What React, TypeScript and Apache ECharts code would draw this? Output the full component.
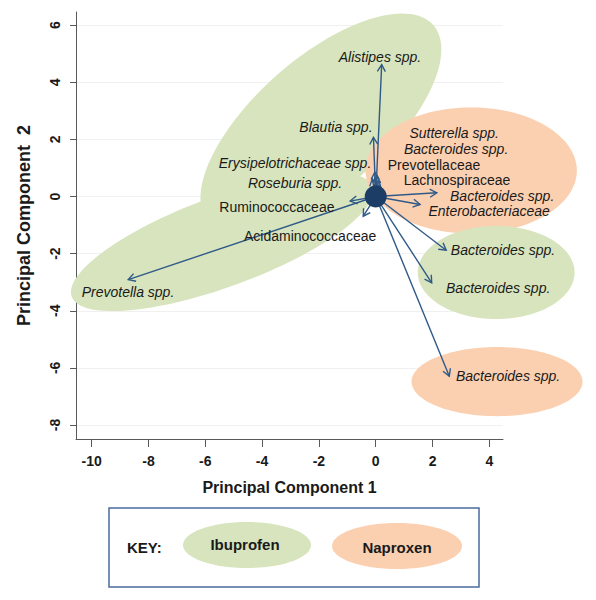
import React, { useEffect, useRef } from "react";
import * as echarts from "echarts";

const FONT = "'Liberation Sans', Arial, Helvetica, sans-serif";

// Axis ranges and ticks
const xMin = -10.55;
const xMax = 4.48;
const yMin = -8.49;
const yMax = 6.46;
const xTicks = [-10, -8, -6, -4, -2, 0, 2, 4];
const yTicks = [-8, -6, -4, -2, 0, 2, 4, 6];

// Loading vectors (arrows from the origin)
const loadingNames = [
  "Alistipes spp.", "Blautia spp.", "Erysipelotrichaceae spp.", "Roseburia spp.",
  "Sutterella spp.", "Bacteroides spp. (a)", "Prevotellaceae", "Lachnospiraceae",
  "Ruminococcaceae", "Acidaminococcaceae", "Prevotella spp.", "Bacteroides spp. (b)",
  "Enterobacteriaceae", "Bacteroides spp. (c)", "Bacteroides spp. (d)", "Bacteroides spp. (e)",
];
const loadingPC1 = [0.21, -0.08, -0.03, -0.12, 0.05, 0.1, 0.02, 0.15, -0.9, -0.44, -8.71, 2.15, 1.56, 2.48, 1.97, 2.59];
const loadingPC2 = [4.62, 2.07, 0.85, 0.62, 0.72, 0.55, 0.5, 0.4, -0.16, -0.69, -2.91, 0.13, -0.28, -1.88, -3.02, -6.29];

// Text labels
const labelTexts = [
  "Alistipes spp.", "Blautia spp.", "Erysipelotrichaceae spp.", "Roseburia spp.",
  "Ruminococcaceae", "Acidaminococcaceae", "Prevotella spp.", "Sutterella spp.",
  "Bacteroides spp.", "Prevotellaceae", "Lachnospiraceae", "Bacteroides spp.",
  "Enterobacteriaceae", "Bacteroides spp.", "Bacteroides spp.", "Bacteroides spp.",
];
const labelX = [0.15, -1.4, -2.84, -2.84, -3.48, -2.31, -8.72, 2.76, 2.83, 2.05, 2.86, 4.45, 3.99, 4.48, 4.31, 4.66];
const labelY = [4.87, 2.45, 1.16, 0.46, -0.35, -1.4, -3.33, 2.24, 1.68, 1.12, 0.58, 0.035, -0.49, -1.89, -3.19, -6.3];
const labelItalic = [true, true, true, true, false, false, true, true, true, false, false, true, true, true, true, true];

// Group ellipses (data units)
const ellipseGroup = ["Ibuprofen", "Ibuprofen", "Naproxen", "Ibuprofen", "Naproxen"];
const ellipseCX = [-1.93, -5.41, 3.36, 4.24, 4.27];
const ellipseCY = [2.55, -1.58, 0.91, -2.66, -6.48];
const ellipseRX = [5.25, 5.63, 3.72, 2.76, 3.01];
const ellipseRY = [2.3, 1.58, 2.21, 1.63, 1.21];
const ellipseAngle = [41, 20, 0, 0, 0];

const origin = [0, 0];

const groupColors: Record<string, string> = {
  Ibuprofen: "#d7e4bd",
  Naproxen: "#fbd0b1",
};

const ARROW = "#2f5a88";
const TEXT = "#1a1a1a";
const AXIS = "#595959";

export default function App() {
  const ref = useRef<HTMLDivElement>(null);

  useEffect(() => {
    if (!ref.current) return;
    const chart = echarts.init(ref.current, null, { renderer: "svg" });

    const ellipseData = ellipseCX.map((cx, i) => [cx, ellipseCY[i], ellipseRX[i], ellipseRY[i], ellipseAngle[i]]);
    const arrowData = loadingPC1.map((x, i) => [x, loadingPC2[i]]);
    const labelData = labelX.map((x, i) => [x, labelY[i]]);

    const option: any = {
      animation: false,
      backgroundColor: "#ffffff",
      grid: { left: 76, top: 12, width: 427, height: 427, outerBoundsMode: "none" },
      xAxis: {
        type: "value",
        min: xMin,
        max: xMax,
        name: "Principal Component 1",
        nameLocation: "middle",
        nameGap: 40,
        nameMoveOverlap: false,
        nameTextStyle: { fontFamily: FONT, fontWeight: "bold", fontSize: 16, color: TEXT },
        axisLine: { show: true, onZero: false, lineStyle: { color: AXIS, width: 1 } },
        axisTick: { show: true, inside: false, length: 8, customValues: xTicks, lineStyle: { color: AXIS } },
        axisLabel: { customValues: xTicks, fontFamily: FONT, fontWeight: "bold", fontSize: 14, color: TEXT, margin: 15 },
        splitLine: { show: false },
      },
      yAxis: {
        type: "value",
        min: yMin,
        max: yMax,
        name: "Principal Component\u00a0\u00a02",
        nameLocation: "middle",
        nameGap: 43,
        nameRotate: 90,
        nameMoveOverlap: false,
        nameTextStyle: { fontFamily: FONT, fontWeight: "bold", fontSize: 18, color: TEXT },
        axisLine: { show: true, onZero: false, lineStyle: { color: AXIS, width: 1 } },
        axisTick: { show: true, inside: false, length: 6, customValues: yTicks, lineStyle: { color: AXIS } },
        axisLabel: { customValues: yTicks, rotate: 90, fontFamily: FONT, fontWeight: "bold", fontSize: 14, color: TEXT, margin: 14 },
        splitLine: { show: true, lineStyle: { color: "#f0f0f0", width: 1 } },
      },
      series: [
        {
          type: "custom",
          name: "ellipses",
          z: 1,
          clip: false,
          silent: true,
          encode: { x: 0, y: 1 },
          data: ellipseData,
          renderItem: (params: any, api: any) => {
            const c = api.coord([api.value(0), api.value(1)]);
            const sz = api.size([1, 1]);
            const rx = api.value(2);
            const ry = api.value(3);
            const a = (api.value(4) * Math.PI) / 180;
            const pts: number[][] = [];
            const n = 120;
            for (let k = 0; k < n; k++) {
              const t = (k / n) * Math.PI * 2;
              const lx = rx * Math.cos(t);
              const ly = ry * Math.sin(t);
              const dx = lx * Math.cos(a) - ly * Math.sin(a);
              const dy = lx * Math.sin(a) + ly * Math.cos(a);
              pts.push([c[0] + dx * sz[0], c[1] - dy * sz[1]]);
            }
            return {
              type: "polygon",
              shape: { points: pts },
              style: { fill: groupColors[ellipseGroup[params.dataIndex]], stroke: "none" },
            };
          },
        },
        {
          type: "custom",
          name: "loadings",
          z: 2,
          clip: false,
          silent: true,
          encode: { x: 0, y: 1 },
          data: arrowData,
          renderItem: (_params: any, api: any) => {
            const s = api.coord(origin);
            const e = api.coord([api.value(0), api.value(1)]);
            const ang = Math.atan2(e[1] - s[1], e[0] - s[0]);
            const L = 8;
            const w = Math.PI / 6;
            const p1 = [e[0] - L * Math.cos(ang - w), e[1] - L * Math.sin(ang - w)];
            const p2 = [e[0] - L * Math.cos(ang + w), e[1] - L * Math.sin(ang + w)];
            return {
              type: "group",
              children: [
                { type: "line", shape: { x1: s[0], y1: s[1], x2: e[0], y2: e[1] }, style: { stroke: ARROW, lineWidth: 1.4 } },
                { type: "polyline", shape: { points: [p1, e, p2] }, style: { stroke: ARROW, lineWidth: 1.4, fill: null } },
              ],
            };
          },
        },
        {
          type: "scatter",
          name: "origin",
          z: 3,
          silent: true,
          symbolSize: 22,
          itemStyle: { color: "#1c3d66", opacity: 1 },
          data: [origin],
        },
        {
          type: "custom",
          name: "labels",
          z: 4,
          clip: false,
          silent: true,
          encode: { x: 0, y: 1 },
          data: labelData,
          renderItem: (params: any, api: any) => {
            const p = api.coord([api.value(0), api.value(1)]);
            const i = params.dataIndex;
            return {
              type: "text",
              x: p[0],
              y: p[1],
              style: {
                text: labelTexts[i],
                align: "center",
                verticalAlign: "middle",
                fontFamily: FONT,
                fontSize: 14,
                fontStyle: labelItalic[i] ? "italic" : "normal",
                fill: TEXT,
              },
            };
          },
        },
      ],
      graphic: [
        {
          type: "rect",
          shape: { x: 109, y: 508, width: 370, height: 79 },
          style: { fill: "#ffffff", stroke: "#4a6b9c", lineWidth: 1.5 },
        },
        {
          type: "text",
          x: 127,
          y: 547,
          style: { text: "KEY:", fontFamily: FONT, fontWeight: "bold", fontSize: 15, fill: TEXT, verticalAlign: "middle" },
        },
        {
          type: "ellipse",
          shape: { cx: 247, cy: 545, rx: 64, ry: 23 },
          style: { fill: groupColors.Ibuprofen },
        },
        {
          type: "text",
          x: 245,
          y: 544,
          style: { text: "Ibuprofen", fontFamily: FONT, fontWeight: "bold", fontSize: 15, fill: TEXT, align: "center", verticalAlign: "middle" },
        },
        {
          type: "ellipse",
          shape: { cx: 397, cy: 546, rx: 65, ry: 23 },
          style: { fill: groupColors.Naproxen },
        },
        {
          type: "text",
          x: 397,
          y: 547,
          style: { text: "Naproxen", fontFamily: FONT, fontWeight: "bold", fontSize: 15, fill: TEXT, align: "center", verticalAlign: "middle" },
        },
      ],
    };

    chart.setOption(option);
    return () => chart.dispose();
  }, []);

  return (
    <div
      ref={ref}
      style={{ position: "absolute", left: 0, top: 0, width: 596, height: 600, background: "#fff" }}
    />
  );
}
